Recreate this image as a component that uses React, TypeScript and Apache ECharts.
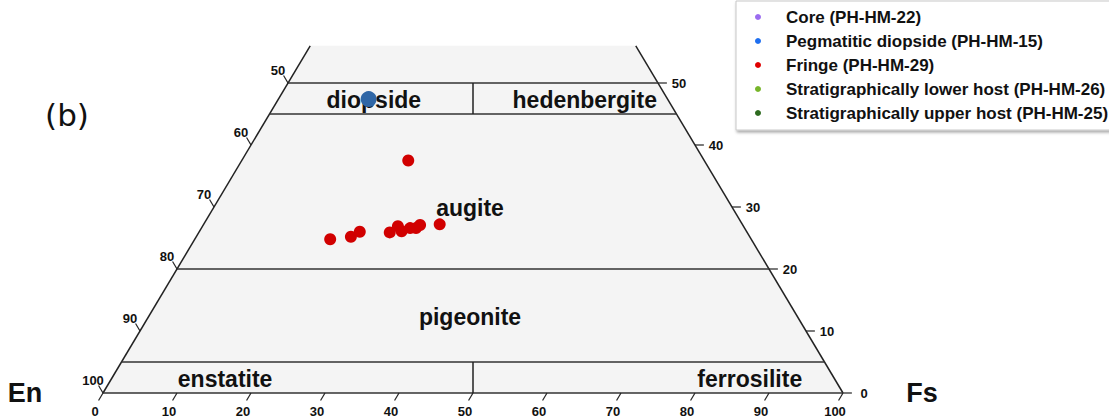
import React, { useEffect, useRef } from "react";
import * as echarts from "echarts";

// Pyroxene compositions in mol% (En = 100 - Wo - Fs)
const fringeWo = [37.5, 24.8, 25.2, 26.0, 25.9, 26.9, 26.1, 26.6, 26.6, 27.1, 27.2];
const fringeFs = [22.5, 18.3, 20.9, 21.7, 25.8, 26.4, 27.3, 28.2, 29.0, 29.3, 31.9];
const pegWo = [47.4];
const pegFs = [12.2];
const coreWo: number[] = [];
const coreFs: number[] = [];
const lowerWo: number[] = [];
const lowerFs: number[] = [];
const upperWo: number[] = [];
const upperFs: number[] = [];

const seriesNames = [
  "Core (PH-HM-22)",
  "Pegmatitic diopside (PH-HM-15)",
  "Fringe (PH-HM-29)",
  "Stratigraphically lower host (PH-HM-26)",
  "Stratigraphically upper host (PH-HM-25)",
];

const bottomTicks = [0, 10, 20, 30, 40, 50, 60, 70, 80, 90, 100]; // Fs along En–Fs edge
const leftTicks = [50, 60, 70, 80, 90, 100]; // En along Fs = 0 edge
const rightTicks = [0, 10, 20, 30, 40, 50]; // Wo along En = 0 edge
const boundaryWo = [5, 20, 45, 50];
const WO_TOP = 56;

const regionNames = ["diopside", "hedenbergite", "augite", "pigeonite", "enstatite", "ferrosilite"];

const toXY = (fs: number, wo: number) => [fs + wo / 2, wo];

const FONT = "'Liberation Sans', Arial, Helvetica, sans-serif";
const LINE = "#222222";

function buildPoints(wo: number[], fs: number[]) {
  return wo.map((w, i) => toXY(fs[i], w));
}

export default function App() {
  const ref = useRef<HTMLDivElement>(null);
  useEffect(() => {
    document.body.style.margin = "0";
    const chart = echarts.init(ref.current!, null, { renderer: "svg" });

    const regionPos: Record<string, [number, number]> = {
      diopside: [36.6, 47.2],
      hedenbergite: [65.1, 47.2],
      augite: [49.6, 29.9],
      pigeonite: [49.6, 12.3],
      enstatite: [16.5, 2.2],
      ferrosilite: [87.4, 2.2],
    };

    const renderFrame = (params: any, api: any) => {
      const c = (fs: number, wo: number) => api.coord(toXY(fs, wo));
      const children: any[] = [];
      children.push({
        type: "polygon",
        shape: { points: [c(0, 0), c(100, 0), c(100 - WO_TOP, WO_TOP), c(0, WO_TOP)] },
        style: { fill: "#f4f4f4", stroke: null },
      });
      const seg = (a: number[], b: number[], w = 1.5, col = LINE) => {
        children.push({
          type: "line",
          shape: { x1: a[0], y1: a[1], x2: b[0], y2: b[1] },
          style: { stroke: col, lineWidth: w },
        });
      };
      // edges
      seg(c(0, 0), c(0, WO_TOP));
      seg(c(100, 0), c(100 - WO_TOP, WO_TOP));
      seg(c(0, 0), c(100, 0), 1.7, "#333");
      boundaryWo.forEach((wo) => seg(c(0, wo), c(100 - wo, wo), 1.7, "#333"));
      seg(c(50, 0), c(47.5, 5));
      seg(c(27.5, 45), c(25, 50));

      const label = (x: number, y: number, text: string, align = "center") => {
        children.push({
          type: "text",
          x,
          y,
          style: {
            text,
            fill: "#111",
            fontSize: 13,
            fontWeight: "bold",
            fontFamily: FONT,
            align,
            verticalAlign: "middle",
          },
        });
      };
      bottomTicks.forEach((fs) => {
        const a = c(fs, 0);
        const b = api.coord([fs - 0.6, -1.2]);
        seg(a, b, 1.2);
        label(a[0] - 8, a[1] + 18, String(fs));
      });
      leftTicks.forEach((en) => {
        const wo = 100 - en;
        const a = c(0, wo);
        const b = c(-1.2, wo + 1.2);
        seg(a, b, 1.2);
        label(a[0] - 10, a[1] - 13, String(en));
      });
      rightTicks.forEach((wo) => {
        const a = c(100 - wo, wo);
        const b = c(100 - wo + 1.2, wo);
        seg(a, b, 1.2);
        label(a[0] + 21, a[1], String(wo));
      });
      regionNames.forEach((n) => {
        const p = api.coord(regionPos[n]);
        children.push({
          type: "text",
          x: p[0],
          y: p[1],
          style: {
            text: n,
            fill: "#111",
            fontSize: 23,
            fontWeight: "bold",
            fontFamily: FONT,
            align: "center",
            verticalAlign: "middle",
          },
        });
      });
      return { type: "group", children };
    };

    const colors = ["#9b6cf0", "#2f66a6", "#d10000", "#77b52a", "#2d6a1f"];
    const legendColors = ["#9b6cf0", "#1e6ff0", "#e00000", "#77b52a", "#2d6a1f"];
    const pts = [
      buildPoints(coreWo, coreFs),
      buildPoints(pegWo, pegFs),
      buildPoints(fringeWo, fringeFs),
      buildPoints(lowerWo, lowerFs),
      buildPoints(upperWo, upperFs),
    ];
    const sizes = [12, 16, 12, 12, 12];

    chart.setOption({
      animation: false,
      backgroundColor: "#ffffff",
      grid: { left: 103, right: 266, top: 45.8, bottom: 24 },
      xAxis: { type: "value", min: 0, max: 100, show: false },
      yAxis: { type: "value", min: 0, max: WO_TOP, show: false },
      legend: {
        orient: "vertical",
        left: 736,
        top: 1,
        padding: [7.5, 6, 8.5, 19],
        itemGap: 7,
        itemWidth: 6,
        itemHeight: 6,
        icon: "circle",
        selectedMode: false,
        backgroundColor: "#ffffff",
        borderColor: "#c8c8c8",
        borderWidth: 1,
        shadowColor: "rgba(0,0,0,0.35)",
        shadowBlur: 3,
        shadowOffsetX: 1,
        shadowOffsetY: 2,
        textStyle: {
          fontFamily: FONT,
          fontWeight: "bold",
          fontSize: 17,
          lineHeight: 17,
          color: "#111",
          padding: [0, 0, 0, 20],
        },
        data: seriesNames.map((n, i) => ({ name: n, itemStyle: { color: legendColors[i] } })),
      },
      graphic: [
        {
          type: "text",
          x: 67,
          y: 115,
          style: {
            text: "(b)",
            fontSize: 31,
            fontFamily: "'DejaVu Sans', sans-serif",
            fill: "#111",
            align: "center",
            verticalAlign: "middle",
          },
        },
        {
          type: "text",
          x: 25,
          y: 393,
          style: {
            text: "En",
            fontSize: 27,
            fontWeight: "bold",
            fontFamily: FONT,
            fill: "#111",
            align: "center",
            verticalAlign: "middle",
          },
        },
        {
          type: "text",
          x: 922,
          y: 393,
          style: {
            text: "Fs",
            fontSize: 27,
            fontWeight: "bold",
            fontFamily: FONT,
            fill: "#111",
            align: "center",
            verticalAlign: "middle",
          },
        },
      ],
      series: [
        {
          type: "custom",
          name: "frame",
          coordinateSystem: "cartesian2d",
          data: [[0, 0]],
          renderItem: renderFrame,
          silent: true,
          z: 1,
        },
        ...seriesNames.map((n, i) => ({
          type: "scatter",
          name: n,
          data: pts[i],
          symbolSize: sizes[i],
          itemStyle: { color: colors[i], opacity: 1 },
          z: 5,
        })),
      ],
    });
    return () => chart.dispose();
  }, []);
  return (
    <div
      ref={ref}
      style={{ position: "absolute", left: 0, top: 0, width: 1109, height: 417 }}
    />
  );
}
